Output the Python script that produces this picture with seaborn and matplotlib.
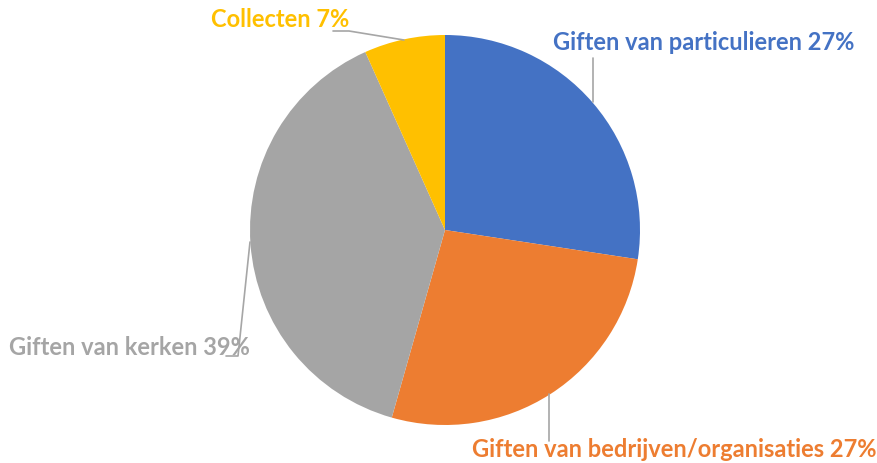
import matplotlib
matplotlib.use('Agg')
import matplotlib.pyplot as plt
import seaborn as sns

# data (shares; labels show them rounded)
categories = ['Giften van particulieren', 'Giften van bedrijven/organisaties',
              'Giften van kerken', 'Collecten']
shares = [27.4, 27.0, 38.9, 6.7]
colors = ['#4472C4', '#ED7D31', '#A5A5A5', '#FFC000']

sns.set_theme(style='white')
plt.rcParams['font.family'] = ['Lato', 'DejaVu Sans']

W, H = 878, 464
CX, CY, R = 445, 231, 195   # pie centre / radius in pixels

def px(x, y):
    # pixel -> data coords (pie radius = 1)
    return (x - CX) / R, (CY - y) / R

fig = plt.figure(figsize=(W / 100, H / 100), dpi=100)
ax = fig.add_axes([0, 0, 1, 1])
ax.pie(shares, colors=colors, startangle=90, counterclock=False,
       radius=1, center=(0, 0), wedgeprops=dict(linewidth=0))
ax.set_xlim(-CX / R, (W - CX) / R)
ax.set_ylim(-(H - CY) / R, CY / R)
ax.set_aspect('equal')
ax.axis('off')

# label layout: text anchor (pixels), alignment, leader line points (pixels)
layout = [
    ((553, 43), 'left', [(593, 103), (593, 59)]),
    ((472, 450), 'left', [(549, 395), (549, 442)]),
    ((250, 348), 'right', [(250, 243), (238, 357), (226, 357)]),
    ((349, 20), 'right', [(404, 41), (349, 32), (333, 32)]),
]

for cat, val, col, (pos, ha, line) in zip(categories, shares, colors, layout):
    xs, ys = zip(*[px(*p) for p in line])
    ax.plot(xs, ys, color='#A6A6A6', lw=1.2, zorder=1)
    tx, ty = px(*pos)
    ax.text(tx, ty, f'{cat} {round(val)}%', color=col, fontsize=17,
            fontweight='bold', ha=ha, va='center', zorder=3)

fig.savefig('out.png', dpi=100, facecolor='white')
